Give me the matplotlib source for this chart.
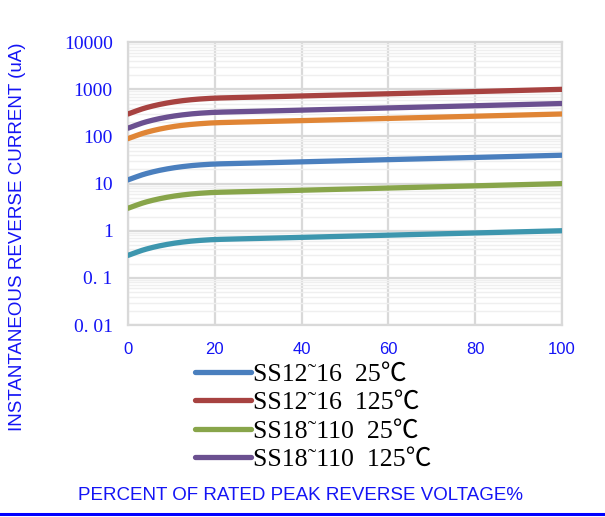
import numpy as np
import matplotlib
matplotlib.use('Agg')
import matplotlib.pyplot as plt
from matplotlib.lines import Line2D
from matplotlib.ticker import FixedLocator, NullFormatter

# ---- data ----
x_pct = [0, 4, 8, 12, 16, 20, 30, 40, 60, 80, 100]
ss12_16_25 = [12, 16.1, 19.7, 22.6, 24.7, 26.0, 27.4, 29.0, 32.2, 35.9, 40]
ss12_16_125 = [300, 403, 493, 566, 618, 650, 686, 723, 804, 897, 1000]
ss18_110_25 = [3, 4.03, 4.93, 5.66, 6.18, 6.5, 6.86, 7.23, 8.04, 8.97, 10]
ss18_110_125 = [150, 202, 247, 283, 309, 325, 343, 362, 402, 449, 500]
extra_orange = [90, 121, 148, 170, 185, 195, 206, 217, 241, 269, 300]
extra_teal = [0.3, 0.403, 0.493, 0.566, 0.618, 0.65, 0.686, 0.723, 0.804, 0.897, 1.0]

legend_labels = ["SS12˜16  25℃", "SS12˜16  125℃", "SS18˜110  25℃", "SS18˜110  125℃"]
x_ticks = [0, 20, 40, 60, 80, 100]
y_ticks = [0.01, 0.1, 1, 10, 100, 1000, 10000]
y_tick_labels = ["0. 01", "0. 1", "1", "10", "100", "1000", "10000"]

x_label = "PERCENT OF RATED PEAK REVERSE VOLTAGE%"
y_label = "INSTANTANEOUS REVERSE CURRENT (uA)"

BLUE_TXT = '#1414F5'


def pchip(xs, ys, xq):
    x = np.asarray(xs, float)
    y = np.asarray(ys, float)
    h = np.diff(x)
    d = np.diff(y) / h
    m = np.zeros_like(y)
    for k in range(1, len(x) - 1):
        if d[k - 1] * d[k] > 0:
            w1 = 2 * h[k] + h[k - 1]
            w2 = h[k] + 2 * h[k - 1]
            m[k] = (w1 + w2) / (w1 / d[k - 1] + w2 / d[k])
    m[0] = d[0]
    m[-1] = d[-1]
    xq = np.asarray(xq, float)
    idx = np.clip(np.searchsorted(x, xq) - 1, 0, len(x) - 2)
    hh = h[idx]
    t = (xq - x[idx]) / hh
    h00 = 2 * t**3 - 3 * t**2 + 1
    h10 = t**3 - 2 * t**2 + t
    h01 = -2 * t**3 + 3 * t**2
    h11 = t**3 - t**2
    return h00 * y[idx] + h10 * hh * m[idx] + h01 * y[idx + 1] + h11 * hh * m[idx + 1]


def smooth(xs, ys):
    xq = np.linspace(xs[0], xs[-1], 400)
    return xq, 10 ** pchip(xs, np.log10(ys), xq)


fig = plt.figure(figsize=(6.05, 5.17), dpi=100)
ax = fig.add_axes([128 / 605, 1 - 325 / 517, (562 - 128) / 605, (325 - 42.2) / 517])

series = [
    (ss12_16_25, '#4A7FBE', legend_labels[0]),
    (ss12_16_125, '#A74240', legend_labels[1]),
    (ss18_110_25, '#88A54A', legend_labels[2]),
    (ss18_110_125, '#6B5090', legend_labels[3]),
    (extra_orange, '#E08535', None),
    (extra_teal, '#3D96AE', None),
]
handles = []
for vals, col, lab in series:
    xs, ys = smooth(x_pct, vals)
    ln, = ax.plot(xs, ys, color=col, lw=3.8, solid_capstyle='round', zorder=3)
    if lab is not None:
        handles.append((ln, lab))

ax.set_yscale('log')
ax.set_xlim(0, 100)
ax.set_ylim(0.01, 10000)
ax.xaxis.set_major_locator(FixedLocator(x_ticks))
ax.set_xticklabels([str(v) for v in x_ticks])
ax.yaxis.set_major_locator(FixedLocator(y_ticks))
ax.set_yticklabels(y_tick_labels)
minor = [m * 10.0 ** e for e in range(-2, 4) for m in range(2, 10)]
ax.yaxis.set_minor_locator(FixedLocator(minor))
ax.yaxis.set_minor_formatter(NullFormatter())

ax.grid(True, which='major', axis='both', color='#D9D9D9', lw=1.6, zorder=1)
ax.grid(True, which='minor', axis='y', color='#EFEFEF', lw=1.0, zorder=0)
for s in ax.spines.values():
    s.set_color('#D9D9D9')
    s.set_linewidth(1.6)
ax.tick_params(axis='both', which='both', length=0)
ax.tick_params(axis='y', pad=11, labelcolor=BLUE_TXT)
ax.tick_params(axis='x', pad=12, labelcolor=BLUE_TXT)
for t in ax.get_yticklabels():
    t.set_fontfamily(['Liberation Serif', 'DejaVu Serif'])
    t.set_fontsize(14)
for t in ax.get_xticklabels():
    t.set_fontfamily(['Liberation Sans', 'DejaVu Sans'])
    t.set_fontsize(12)

leg = fig.legend([h for h, _ in handles], [l for _, l in handles],
                 loc='upper left', bbox_to_anchor=(195 / 605, 1 - 363 / 517),
                 frameon=False, borderpad=0, borderaxespad=0,
                 handlelength=2.15, handletextpad=0.1, labelspacing=0.2,
                 prop={'family': ['Liberation Serif', 'Noto Sans CJK SC', 'DejaVu Serif'], 'size': 18.6})

fig.text(18 / 605, 1 - 237 / 517, y_label, rotation=90, ha='center', va='center',
         color=BLUE_TXT, fontsize=13.5, family=['Liberation Sans', 'DejaVu Sans'])
fig.text(301 / 605, 1 - 496 / 517, x_label, ha='center', va='center',
         color=BLUE_TXT, fontsize=13.5, family=['Liberation Sans', 'DejaVu Sans'])

fig.add_artist(Line2D([0, 1], [1 - 513.5 / 517, 1 - 513.5 / 517], transform=fig.transFigure,
                      color='#0000FF', lw=2.2))

fig.savefig('out.png', dpi=100)
